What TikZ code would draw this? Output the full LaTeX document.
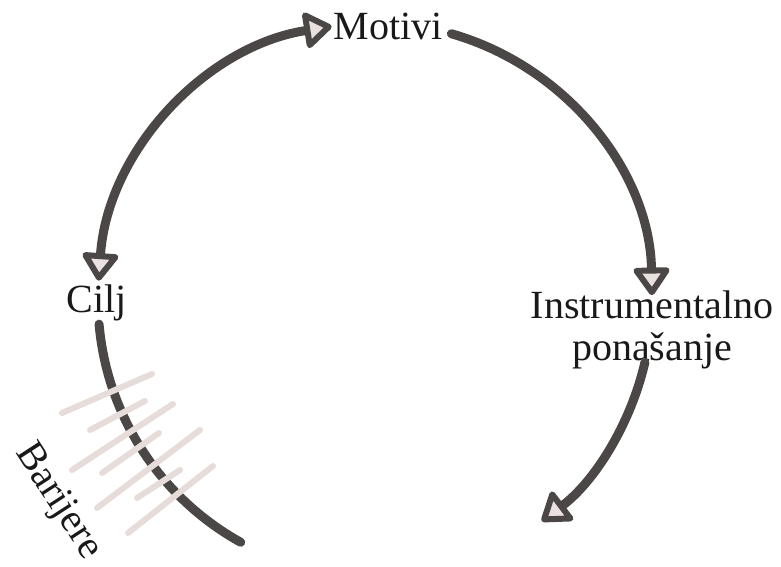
\documentclass[tikz,border=0pt]{standalone}
\usepackage{fontspec}
\setmainfont{Liberation Serif}
\usepackage{tikz}
\usetikzlibrary{arrows.meta,calc}
\definecolor{cycledark}{HTML}{4B4747}
\definecolor{tipfill}{HTML}{E9E1E0}
\definecolor{barrierpink}{HTML}{E6DCDA}

\begin{document}
\begin{tikzpicture}[x=1pt,y=1pt,
    cyclearc/.style={draw=cycledark, line width=9pt, line cap=round},
    cycletip/.style={-{Triangle[round,length=30pt,width=40pt,line width=6pt,fill=tipfill]}},
    barrierline/.style={draw=barrierpink, line width=6pt, line cap=round},
    label/.style={font=\fontsize{40}{42}\selectfont, text=black!90, align=center, inner sep=0pt}]
    \useasboundingbox (0,0) rectangle (781,566);
    \coordinate (hub) at (375,266);

    \node[label] (motivi) at (388,540) {Motivi};
    \node[label] (cilj) at (97,263) {Cilj};
    \node[label] (instr) at (652,236) {Instrumentalno\\ponašanje};
    \node[label, rotate=-57] (barijere) at (58,64) {Barijere};

    % points on the loop
    \coordinate (ciljtop) at ($(hub)+(176:277)$);
    \coordinate (motivir) at ($(hub)+(74:277)$);
    \coordinate (instrbot) at ($(hub)+(-13:277)$);
    \coordinate (ciljbot) at ($(hub)+(185:277)$);

    \draw[cyclearc, {Triangle[round,length=30pt,width=40pt,line width=6pt,fill=tipfill]}-{Triangle[round,length=30pt,width=40pt,line width=6pt,fill=tipfill]}]
        (ciljtop) arc[start angle=176, end angle=99, radius=277];
    \draw[cyclearc, cycletip] (motivir) arc[start angle=74, end angle=1, radius=277];
    \draw[cyclearc, cycletip] (instrbot) arc[start angle=-13, end angle=-53, radius=277];
    \draw[cyclearc] (ciljbot) arc[start angle=185, end angle=241, radius=277];

    % barrier hatching
    \draw[barrierline] (62,153) -- (152,192);
    \draw[barrierline] (90,136) -- (145,165);
    \draw[barrierline] (72,96) -- (173,162);
    \draw[barrierline] (102,93) -- (159,133);
    \draw[barrierline] (97,58) -- (200,136);
    \draw[barrierline] (137,68) -- (180,96);
    \draw[barrierline] (128,33) -- (213,100);
\end{tikzpicture}
\end{document}
